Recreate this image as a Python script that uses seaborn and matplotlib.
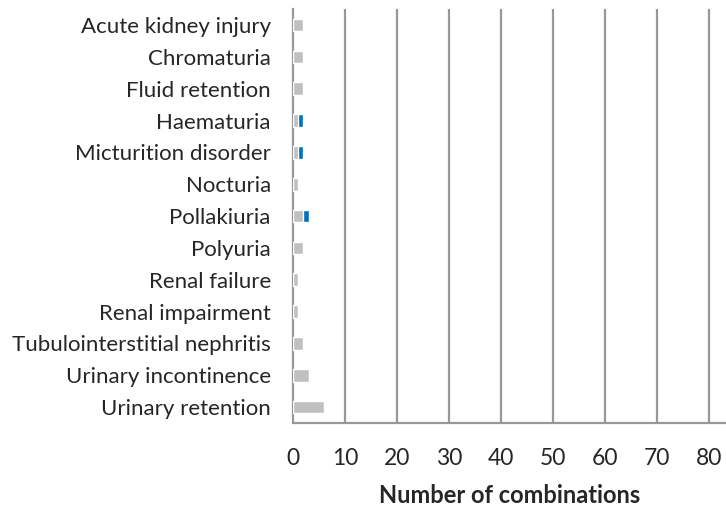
#!/usr/bin/env python3
"""
Horizontal stacked bar chart of renal/urinary adverse events by number of combinations.
"""

import pandas as pd
import matplotlib.pyplot as plt
import seaborn as sns
from matplotlib.ticker import MultipleLocator, FixedLocator

# Data
events = [
    "Acute kidney injury", "Chromaturia", "Fluid retention", "Haematuria",
    "Micturition disorder", "Nocturia", "Pollakiuria", "Polyuria",
    "Renal failure", "Renal impairment", "Tubulointerstitial nephritis",
    "Urinary incontinence", "Urinary retention",
]
grey_counts = [2, 2, 2, 1, 1, 1, 2, 2, 1, 1, 2, 3, 6]
blue_counts = [0, 0, 0, 1, 1, 0, 1, 0, 0, 0, 0, 0, 0]

GREY = "#C0C0C0"
BLUE = "#0070C0"
AXIS_GREY = "#989898"

sns.set_style("white")
plt.rcParams["font.family"] = ["Lato", "DejaVu Sans"]

df = pd.DataFrame({"event": events, "grey": grey_counts, "blue": blue_counts})
df["total"] = df["grey"] + df["blue"]

fig = plt.figure(figsize=(7.26, 5.09), dpi=100)
ax = fig.add_axes([0.4036, 0.169, 0.5964, 0.813])

# stacked: blue total underneath, grey segment drawn over it
sns.barplot(data=df, x="total", y="event", color=BLUE, width=0.4,
            saturation=1, ax=ax, zorder=3)
sns.barplot(data=df, x="grey", y="event", color=GREY, width=0.4,
            saturation=1, ax=ax, zorder=4)

ax.set_xlim(0, 83.2)
ax.set_ylim(len(events) - 0.5, -0.5)

# vertical gridlines
ax.xaxis.set_major_locator(MultipleLocator(10))
for v in range(10, 90, 10):
    ax.axvline(v, color=AXIS_GREY, lw=1.6, zorder=1)

ax.set_xticks(range(0, 90, 10))
ax.tick_params(axis="x", direction="out", length=6, width=1.3,
               color=AXIS_GREY, labelsize=16.5, pad=12)

# category labels at centres, tick marks at boundaries
ax.tick_params(axis="y", which="major", length=0, labelsize=16, pad=16)
ax.yaxis.set_minor_locator(FixedLocator([i - 0.5 for i in range(len(events) + 1)]))
ax.tick_params(axis="y", which="minor", direction="out", length=7,
               width=1.3, color=AXIS_GREY)

for side in ["top", "right"]:
    ax.spines[side].set_visible(False)
for side in ["left", "bottom"]:
    ax.spines[side].set_color(AXIS_GREY)
    ax.spines[side].set_linewidth(1.6)

ax.set_ylabel("")
ax.set_xlabel("Number of combinations", fontsize=17, fontweight="bold",
              labelpad=11)

plt.savefig("out.png", dpi=100)
plt.close()
